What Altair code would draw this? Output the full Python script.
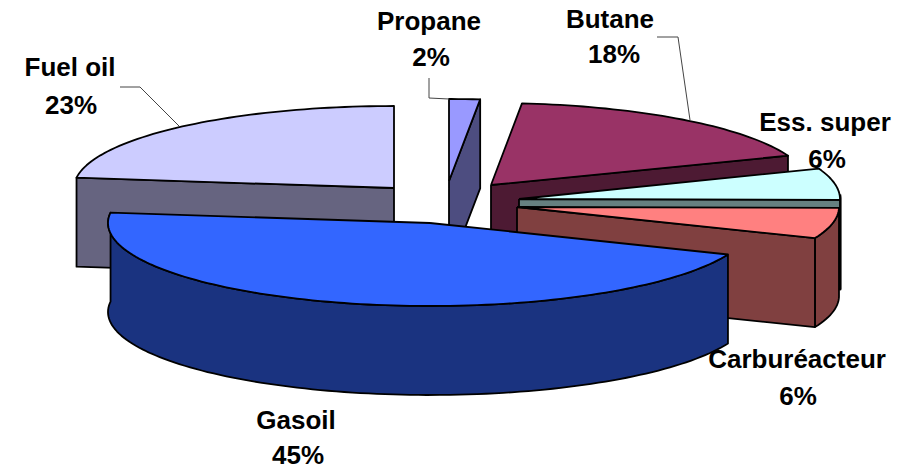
import math
import altair as alt
import pandas as pd

# ---- data ----
categories = ["Propane", "Butane", "Ess.  super", "Carburéacteur", "Gasoil", "Fuel oil"]
shares = [2, 18, 6, 6, 45, 23]
top_colors = ["#9999FF", "#993366", "#CCFFFF", "#FF8080", "#3366FF", "#CCCCFF"]
side_colors = ["#4D4D80", "#4D1A33", "#668080", "#804040", "#1A3380", "#666480"]

# ---- layout of the exploded 3-D pie (centre x, centre y, radius x, radius y) ----
geometry = {
    "Propane": (449, 181, 320, 82),
    "Butane": (491, 185, 318, 82),
    "Ess.  super": (519, 199, 321, 85),
    "Carburéacteur": (517, 207, 322, 82),
    "Gasoil": (430, 223, 322, 83),
    "Fuel oil": (394, 188, 320, 82),
}
DEPTH = 89
draw_order = ["Fuel oil", "Propane", "Butane", "Ess.  super", "Carburéacteur", "Gasoil"]
cut_face_edge = {"Fuel oil": "start", "Propane": "end", "Butane": "end",
                 "Ess.  super": "end", "Carburéacteur": "end"}
outer_wall = ["Ess.  super", "Carburéacteur", "Gasoil"]
wall_stroke = {"Ess.  super": 3.2}

label_layout = {
    "Fuel oil": (70, 68, 71, 106),
    "Propane": (429, 22, 431, 58),
    "Butane": (610, 20, 614, 55),
    "Ess.  super": (825, 123, 827, 160),
    "Carburéacteur": (797, 360, 798, 397),
    "Gasoil": (296, 421, 298, 456),
}
leaders = [
    [(120, 87), (140, 87), (179, 126)],
    [(429, 78), (429, 98), (449, 99)],
    [(657, 37), (678, 37), (690, 120)],
]

X = alt.Scale(domain=[8, 895], range=[0, 887])
Y = alt.Scale(domain=[469, 8], range=[461, 0])


def point(name, t, dz=0):
    cx, cy, rx, ry = geometry[name]
    s = math.sin(math.radians(t))
    warp = 3 * s ** 0.3 if s > 0 else 0
    a = math.radians(t - warp)
    return (cx + rx * math.sin(a), cy - ry * math.cos(a) + dz)


def arc(name, a, b, dz=0):
    n = max(2, int(abs(b - a) / 1.5) + 1)
    return [point(name, a + (b - a) * i / n, dz) for i in range(n + 1)]


def polygon(pts, fill, width=1.8):
    pts = list(pts) + [pts[0]]
    df = pd.DataFrame({"x": [p[0] for p in pts], "y": [p[1] for p in pts], "i": range(len(pts))})
    return alt.Chart(df).mark_line(fill=fill, stroke="black", strokeWidth=width,
                                   strokeJoin="round", clip=False).encode(
        x=alt.X("x:Q", scale=X, axis=None),
        y=alt.Y("y:Q", scale=Y, axis=None),
        order="i:Q",
    )


spans = {}
acc = 0.0
for c, v in zip(categories, shares):
    spans[c] = (acc * 3.6, (acc + v) * 3.6)
    acc += v

layers = []
for name in draw_order:
    k = categories.index(name)
    a, b = spans[name]
    cx, cy, rx, ry = geometry[name]
    if name in outer_wall:
        aa = max(a, 90)
        layers.append(polygon(arc(name, aa, b) + arc(name, b, aa, DEPTH), side_colors[k],
                              wall_stroke.get(name, 1.8)))
    if name in cut_face_edge:
        t = a if cut_face_edge[name] == "start" else b
        e = point(name, t)
        layers.append(polygon([(cx, cy), e, (e[0], e[1] + DEPTH), (cx, cy + DEPTH)], side_colors[k]))
    layers.append(polygon([(cx, cy)] + arc(name, a, b), top_colors[k]))

for path in leaders:
    df = pd.DataFrame({"x": [p[0] for p in path], "y": [p[1] for p in path], "i": range(len(path))})
    layers.append(alt.Chart(df).mark_line(stroke="#444444", strokeWidth=1).encode(
        x=alt.X("x:Q", scale=X, axis=None), y=alt.Y("y:Q", scale=Y, axis=None), order="i:Q"))

rows = []
for c, v in zip(categories, shares):
    x1, y1, x2, y2 = label_layout[c]
    rows.append({"x": x1, "y": y1, "t": c})
    rows.append({"x": x2, "y": y2, "t": f"{v}%"})
labels = alt.Chart(pd.DataFrame(rows)).mark_text(
    font="Liberation Sans", fontWeight="bold", fontSize=26, color="black",
    align="center", baseline="middle").encode(
    x=alt.X("x:Q", scale=X, axis=None), y=alt.Y("y:Q", scale=Y, axis=None), text="t:N")
layers.append(labels)

chart = alt.layer(*layers).properties(
    width=887, height=461, padding=0, autosize=alt.AutoSizeParams(type="none"),
    background="white",
).configure_view(stroke=None)
chart.save("out.html", embed_options={"renderer": "svg", "actions": False})
